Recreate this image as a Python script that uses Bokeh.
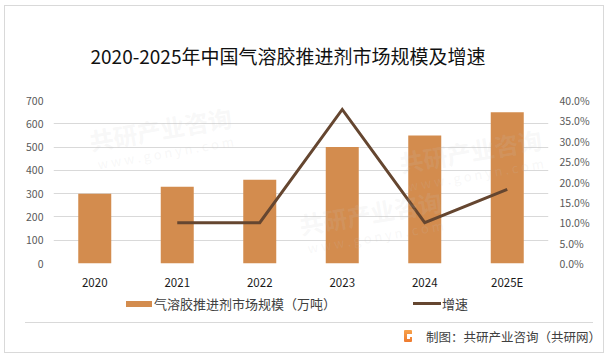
from bokeh.plotting import figure
from bokeh.layouts import column
from bokeh.models import (Range1d, LinearAxis, FactorRange, Label,
                          NumeralTickFormatter, FixedTicker, Title, Div)
from bokeh.embed import file_html
from bokeh.resources import INLINE

# ---------------- data ----------------
years = ["2020", "2021", "2022", "2023", "2024", "2025E"]
market = [300, 330, 360, 500, 550, 650]            # 万吨
growth_years = ["2021", "2022", "2023", "2024", "2025E"]
growth = [0.10, 0.10, 0.378, 0.10, 0.182]           # 增速
left_ticks = [0, 100, 200, 300, 400, 500, 600, 700]
right_ticks = [0.0, 0.05, 0.10, 0.15, 0.20, 0.25, 0.30, 0.35, 0.40]

title_text = "2020-2025年中国气溶胶推进剂市场规模及增速"
bar_label = "气溶胶推进剂市场规模（万吨）"
line_label = "增速"
source_text = "制图：共研产业咨询（共研网）"

CJK = "Noto Sans CJK SC"
BAR_COLOR = "#D38C4E"
LINE_COLOR = "#654630"
GRID = "#d9d9d9"

# ---------------- main chart ----------------
W = 598
H1 = 286
ML, MR, MT, FH = 48, 55, 94, 163
MB = H1 - MT - FH
FW = W - ML - MR

p = figure(width=W, height=H1, x_range=FactorRange(*years), y_range=Range1d(0, 700),
           output_backend="svg", toolbar_location=None,
           min_border_left=ML, min_border_right=MR, min_border_top=MT, min_border_bottom=MB)
p.extra_y_ranges = {"pct": Range1d(0, 0.40)}
p.outline_line_color = None
p.background_fill_color = "white"
p.border_fill_color = "white"

ya = p.yaxis[0]
ya.ticker = FixedTicker(ticks=left_ticks)
ya.axis_line_color = None
ya.major_tick_line_color = None
ya.minor_tick_line_color = None
ya.major_tick_out = 0
ya.major_label_standoff = 10
ya.major_label_text_font = CJK
ya.major_label_text_font_size = "10.5px"
ya.major_label_text_color = "#595959"

ra = LinearAxis(y_range_name="pct", ticker=FixedTicker(ticks=right_ticks),
                formatter=NumeralTickFormatter(format="0.0%"))
ra.axis_line_color = None
ra.major_tick_line_color = None
ra.minor_tick_line_color = None
ra.major_tick_out = 0
ra.major_label_standoff = 11
ra.major_label_text_font = CJK
ra.major_label_text_font_size = "10.5px"
ra.major_label_text_color = "#595959"
p.add_layout(ra, "right")

xa = p.xaxis[0]
xa.axis_line_color = None
xa.major_tick_line_color = None
xa.minor_tick_line_color = None
xa.major_tick_out = 0
xa.major_label_standoff = 10
xa.major_label_text_font = CJK
xa.major_label_text_font_size = "11.5px"
xa.major_label_text_color = "#1a1a1a"

p.xgrid.grid_line_color = None
p.ygrid.grid_line_color = GRID
p.ygrid.grid_line_width = 1

bars = p.vbar(x=years, top=market, width=0.4, fill_color=BAR_COLOR, line_color=None)
ln = p.line(x=growth_years, y=growth, y_range_name="pct", line_color=LINE_COLOR,
            line_width=3, line_join="miter")

p.add_layout(Title(text=title_text, align="left", offset=37, standoff=63,
                   text_font=CJK, text_font_size="19px", text_font_style="normal",
                   text_color="#111111"), "above")


# watermarks inside the plot frame (faint)
def fx(px):
    return (px - 5 - ML) / FW * len(years)


def fy(py):
    return (MT + FH - (py - 6)) / FH * 700


for (wx, wy) in [(160, 128), (370, 212), (470, 150)]:
    p.add_layout(Label(x=fx(wx), y=fy(wy), text="共研产业咨询", text_align="center",
                       text_baseline="middle", text_font=CJK, text_font_style="bold",
                       text_font_size="24px", text_color="#c8c8c8", text_alpha=0.14,
                       angle=0.17))
    p.add_layout(Label(x=fx(wx + 5), y=fy(wy + 24), text="w w w . g o n y n . c o m",
                       text_align="center", text_baseline="middle", text_font=CJK,
                       text_font_size="13px", text_color="#c8c8c8", text_alpha=0.14,
                       angle=0.17))

# ---------------- footer: legend, separator, logo, source ----------------
H2 = 60
footer_html = (
    '<div style="position:relative;width:{w}px;height:{h}px;font-family:\'{f}\';">'
    # legend: bar series
    '<div style="position:absolute;left:121px;top:8.5px;width:26px;height:6px;background:{bc};"></div>'
    '<div style="position:absolute;left:149px;top:2.8px;font-size:13px;line-height:17px;'
    'color:#404040;white-space:nowrap;">{bl}</div>'
    # legend: line series
    '<div style="position:absolute;left:408px;top:10px;width:28px;height:3px;background:{lc};"></div>'
    '<div style="position:absolute;left:437px;top:2.8px;font-size:13px;line-height:17px;'
    'color:#404040;white-space:nowrap;">{ll}</div>'
    # separator
    '<div style="position:absolute;left:20px;top:30px;width:568px;height:0;'
    'border-top:1px solid {g};"></div>'
    # logo
    '<div style="position:absolute;left:399px;top:38px;width:8px;height:12px;'
    'background:linear-gradient(#F7A24B,#EE7A2F);border-radius:1px;"></div>'
    '<div style="position:absolute;left:402px;top:42px;width:5px;height:2.5px;background:#fff;"></div>'
    '<div style="position:absolute;left:401.5px;top:44.5px;width:3px;height:2.5px;background:#fff;"></div>'
    # source
    '<div style="position:absolute;left:421px;top:35.5px;font-size:12.5px;line-height:17px;'
    'color:#404040;white-space:nowrap;">{src}</div>'
    '</div>'
).format(w=W, h=H2, f=CJK, bc=BAR_COLOR, bl=bar_label, lc=LINE_COLOR, ll=line_label,
         g=GRID, src=source_text)
footer = Div(text=footer_html, width=W, height=H2, margin=0)

layout = column(p, footer, margin=(5, 0, 0, 4), spacing=0,
                styles={"border": "1px solid #d9d9d9"})

open("out.html", "w").write(file_html(layout, INLINE))
